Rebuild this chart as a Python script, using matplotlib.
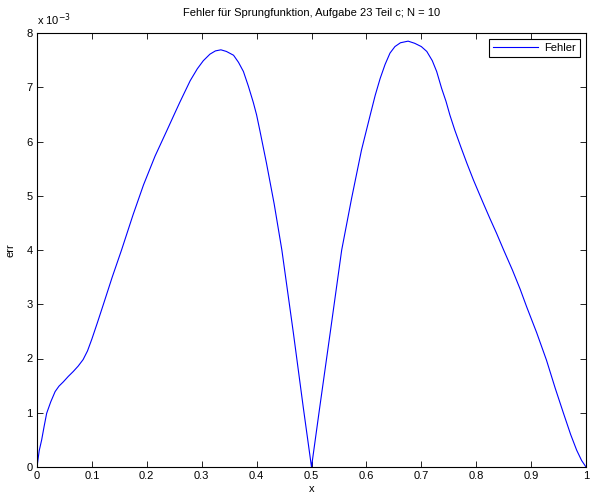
import matplotlib
matplotlib.use("Agg")
import matplotlib.pyplot as plt

# Data (err in units of 1e-3)
x_vals = [0, 0.004, 0.0085, 0.013, 0.0176, 0.025, 0.033, 0.04, 0.048, 0.057,
          0.066, 0.075, 0.084, 0.092, 0.1, 0.11, 0.121, 0.137, 0.154, 0.175,
          0.194, 0.215, 0.236, 0.25, 0.26, 0.279, 0.292, 0.303, 0.315, 0.325,
          0.335, 0.345, 0.358, 0.367, 0.376, 0.385, 0.394, 0.4, 0.406, 0.418,
          0.432, 0.446, 0.467, 0.485, 0.5, 0.515, 0.534, 0.555, 0.573, 0.591,
          0.607, 0.616, 0.625, 0.634, 0.643, 0.652, 0.662, 0.676, 0.688, 0.7,
          0.71, 0.72, 0.728, 0.737, 0.745, 0.752, 0.761, 0.772, 0.783, 0.795,
          0.805, 0.813, 0.825, 0.837, 0.85, 0.866, 0.88, 0.892, 0.91, 0.928,
          0.944, 0.959, 0.972, 0.983, 0.992, 1.0]
err_1e3 = [0, 0.3, 0.5, 0.75, 0.99, 1.2, 1.39, 1.49, 1.57, 1.67,
           1.76, 1.86, 1.98, 2.14, 2.36, 2.66, 3.0, 3.5, 4.0, 4.65,
           5.2, 5.73, 6.19, 6.5, 6.72, 7.12, 7.34, 7.49, 7.61, 7.67,
           7.69, 7.66, 7.59, 7.46, 7.29, 7.02, 6.72, 6.49, 6.2, 5.6,
           4.85, 4.0, 2.47, 1.1, 0, 1.1, 2.47, 4.0, 4.95, 5.84,
           6.49, 6.85, 7.16, 7.42, 7.63, 7.75, 7.82, 7.85, 7.81, 7.75,
           7.66, 7.49, 7.29, 6.98, 6.74, 6.49, 6.21, 5.9, 5.6, 5.29,
           5.05, 4.86, 4.58, 4.31, 4.0, 3.63, 3.28, 2.95, 2.48, 1.97,
           1.45, 0.99, 0.6, 0.31, 0.12, 0]

x_ticks = [0, 0.1, 0.2, 0.3, 0.4, 0.5, 0.6, 0.7, 0.8, 0.9, 1]
x_ticklabels = ["0", "0.1", "0.2", "0.3", "0.4", "0.5", "0.6", "0.7", "0.8", "0.9", "1"]
y_ticks = [0, 1, 2, 3, 4, 5, 6, 7, 8]

plt.rcParams['font.family'] = ['Liberation Sans', 'DejaVu Sans']
plt.rcParams['font.size'] = 8

fig = plt.figure(figsize=(5.9, 4.96), dpi=100)
ax = fig.add_axes([37 / 590, 29 / 496, 549 / 590, 434 / 496])

ax.plot(x_vals, err_1e3, color='#0000ff', linewidth=0.8, label='Fehler')

ax.set_xlim(0, 1)
ax.set_ylim(0, 8)
ax.set_xticks(x_ticks)
ax.set_xticklabels(x_ticklabels)
ax.set_yticks(y_ticks)
ax.tick_params(direction='in', length=4, width=0.6, top=True, right=True,
               labelsize=8, pad=3)
for s in ax.spines.values():
    s.set_linewidth(0.8)

ax.set_title('Fehler für Sprungfunktion, Aufgabe 23 Teil c; N = 10', fontsize=8, pad=12)
ax.set_xlabel('x', fontsize=8, labelpad=2)
ax.set_ylabel('err', fontsize=8, labelpad=8)
ax.text(0.0, 1.012, r'x 10$^{-3}$', transform=ax.transAxes, fontsize=8,
        ha='left', va='bottom')

leg = ax.legend(loc='upper right', fancybox=False, framealpha=1, edgecolor='black',
                fontsize=8, handlelength=4.0, borderpad=0.4, handletextpad=0.6,
                borderaxespad=0.5)
leg.get_frame().set_linewidth(0.8)

fig.savefig('out.png', dpi=100)
